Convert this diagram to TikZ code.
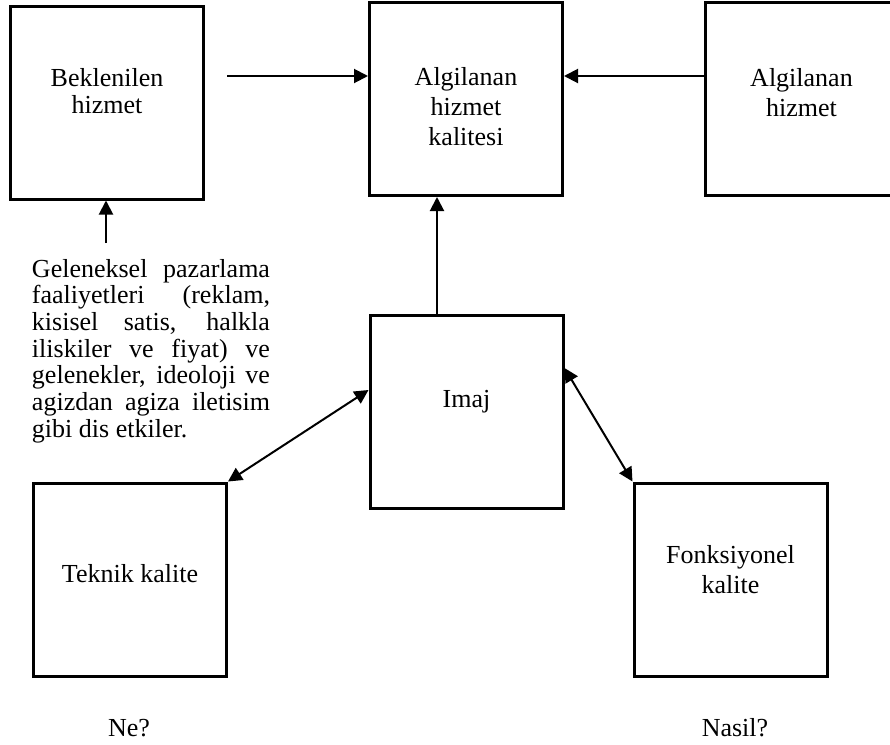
\documentclass[tikz,border=0pt]{standalone}
\usepackage{fontspec}
\setmainfont{Liberation Serif}
\usetikzlibrary{positioning,arrows.meta}

\begin{document}
\begin{tikzpicture}[
    x=0.5pt, y=-0.5pt,
    >={Triangle[length=7pt, width=7pt]},
    box/.style={rectangle, draw=black, line width=1.5pt, minimum width=96.5pt, minimum height=96.5pt, inner sep=0pt},
    boxtext/.style={text width=92pt, align=center, inner sep=0pt, anchor=base, font=\fontsize{13}{15}\selectfont},
    plain/.style={inner sep=0pt, anchor=base, font=\fontsize{13}{15}\selectfont},
    arrow/.style={->, line width=1pt, draw=black},
    twoway/.style={<->, line width=1pt, draw=black}
]
\useasboundingbox (0,0) rectangle (890,745);
\clip (0,0) rectangle (890,745);

% Row 1: service boxes
\node[box] (bek) at (107,102.5) {};
\node[box] (alg) at (466,99) {};
\node[box] (sag) at (801.5,99) {};
\node[boxtext, font=\fontsize{13}{13.5}\selectfont] (bek-t) at (107,86) {Beklenilen\\hizmet};
\node[boxtext] (alg-t) at (466,85) {Algilanan\\hizmet\\kalitesi};
\node[boxtext] (sag-t) at (801.5,86) {Algilanan\\hizmet};

% Outside influences
\node[inner sep=0pt, anchor=base, text width=119pt, align=justify, font=\fontsize{13}{13.35}\selectfont] (dis-t) at (151,277)
    {\tolerance=10000\hbadness=10000\hyphenpenalty=10000
     Geleneksel pazarlama\linebreak faaliyetleri (reklam,\linebreak kisisel satis, halkla\linebreak iliskiler ve fiyat) ve\linebreak gelenekler, ideoloji ve\linebreak agizdan agiza iletisim\linebreak gibi dis etkiler.};

% Row 2: image
\node[box] (imaj) at (466.5,412) {};
\node[plain] (imaj-t) at (466.5,407) {Imaj};

% Row 3: quality dimensions
\node[box] (teknik) at (130,579.5) {};
\node[box] (fonk) at (730.5,579.5) {};
\node[plain] (teknik-t) at (130,582) {Teknik kalite};
\node[boxtext] (fonk-t) at (730.5,563) {Fonksiyonel\\kalite};
\node[plain] (ne) at (129,736) {Ne?};
\node[plain] (nasil) at (735,736) {Nasil?};

% Arrows Row 1
\coordinate (ust) at (227,76);
\draw[arrow] (ust) -- (ust -| alg.west);
\draw[arrow] (ust -| sag.west) -- (ust -| alg.east);
\coordinate (dis) at (106,243);
\draw[arrow] (dis) -- (dis |- bek.south);

% Arrows to and from image
\coordinate (yukari) at ([xshift=-14.75pt]imaj.north);
\draw[arrow] (yukari) -- (yukari |- alg.south);
\draw[twoway] ([yshift=11pt]imaj.west) -- (teknik.north east);
\draw[twoway] ([yshift=22pt]imaj.east) -- (fonk.north west);

\end{tikzpicture}
\end{document}
